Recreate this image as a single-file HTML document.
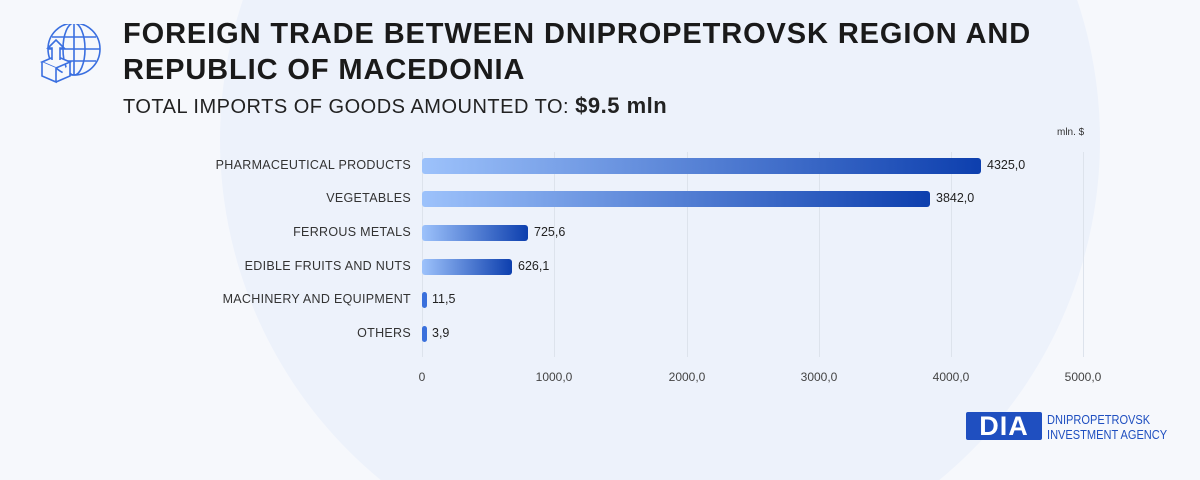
<!DOCTYPE html>
<html><head><meta charset="utf-8"><style>
html,body{margin:0;width:1200px;height:480px;overflow:hidden}
body{font-family:"Liberation Sans",sans-serif;background:#f6f8fc}
#w{position:relative;width:1200px;height:480px;overflow:hidden}
.t{position:absolute;left:123px;font-weight:bold;color:#1a1a1a;letter-spacing:0.9px}
.lab{position:absolute;right:789px;font-size:12.5px;color:#333;letter-spacing:.3px}
.bar{position:absolute;left:422px;height:16px;border-radius:3px;background:linear-gradient(90deg,#9dc2fb,#0d3fae)}
.val{position:absolute;font-size:12.5px;color:#222}
.grid{position:absolute;top:152px;height:205px;width:1px;background:#dde3ec}
.tick{position:absolute;top:370px;font-size:12px;color:#444;transform:translateX(-50%)}
</style></head><body><div id="w">
<svg style="position:absolute;left:0;top:0" width="1200" height="480"><circle cx="660" cy="140" r="440" fill="#edf2fb"/></svg>
<svg style="position:absolute;left:38px;top:24px" width="64" height="62" viewBox="0 0 64 62" fill="none" stroke="#3a6fe0" stroke-width="1.6">
<circle cx="36" cy="25" r="26"/><ellipse cx="36" cy="25" rx="11" ry="26"/><line x1="10" y1="25" x2="62" y2="25"/><line x1="14" y1="13" x2="58" y2="13"/><line x1="14" y1="37" x2="58" y2="37"/><line x1="36" y1="-1" x2="36" y2="51"/>
<path d="M4 38 L18 32 L32 38 L18 44 Z" fill="#f6f8fc"/><path d="M4 38 V52 L18 58 V44 M32 38 V52 L18 58" fill="#f6f8fc"/>
<path d="M14 36 V24 H10 L18 16 L26 24 H22 V36" fill="#f6f8fc"/></svg>
<div class="t" style="top:16px;font-size:29px;line-height:36px">FOREIGN TRADE BETWEEN DNIPROPETROVSK REGION AND<br>REPUBLIC OF MACEDONIA</div>
<div style="position:absolute;left:123px;top:93px;font-size:20px;color:#222;letter-spacing:.5px">TOTAL IMPORTS OF GOODS AMOUNTED TO: <b style="font-size:22px">$9.5 mln</b></div>
<div style="position:absolute;left:1057px;top:127px;font-size:10px;color:#333">mln. $</div>
<div class="grid" style="left:554px"></div><div class="grid" style="left:687px"></div><div class="grid" style="left:819px"></div><div class="grid" style="left:951px"></div><div class="grid" style="left:1083px"></div><div class="grid" style="left:422px"></div>
<div class="lab" style="top:158px">PHARMACEUTICAL PRODUCTS</div>
<div class="lab" style="top:191px">VEGETABLES</div>
<div class="lab" style="top:225px">FERROUS METALS</div>
<div class="lab" style="top:259px">EDIBLE FRUITS AND NUTS</div>
<div class="lab" style="top:292px">MACHINERY AND EQUIPMENT</div>
<div class="lab" style="top:326px">OTHERS</div>
<div class="bar" style="top:158px;width:559px"></div><div class="val" style="left:987px;top:158px">4325,0</div>
<div class="bar" style="top:191px;width:508px"></div><div class="val" style="left:936px;top:191px">3842,0</div>
<div class="bar" style="top:225px;width:106px"></div><div class="val" style="left:534px;top:225px">725,6</div>
<div class="bar" style="top:259px;width:90px"></div><div class="val" style="left:518px;top:259px">626,1</div>
<div class="bar" style="top:292px;width:5px;background:#3a70dc"></div><div class="val" style="left:432px;top:292px">11,5</div>
<div class="bar" style="top:326px;width:5px;background:#3a70dc"></div><div class="val" style="left:432px;top:326px">3,9</div>
<div class="tick" style="left:422px">0</div><div class="tick" style="left:554px">1000,0</div><div class="tick" style="left:687px">2000,0</div><div class="tick" style="left:819px">3000,0</div><div class="tick" style="left:951px">4000,0</div><div class="tick" style="left:1083px">5000,0</div>
<div style="position:absolute;left:966px;top:412px;width:76px;height:28px;background:#1f4fc0;border-radius:2px;color:#fff;font-weight:bold;font-size:27px;line-height:28px;text-align:center;letter-spacing:1px">DIA</div>
<div style="position:absolute;left:1047px;top:412px;font-size:13px;line-height:15px;color:#1f4fc0;transform:scaleX(.85);transform-origin:left">DNIPROPETROVSK<br>INVESTMENT AGENCY</div>
</div></body></html>
